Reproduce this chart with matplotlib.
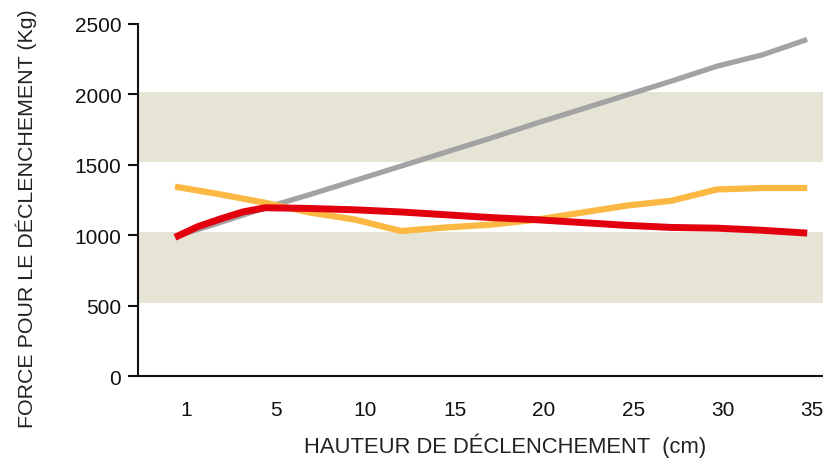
import matplotlib
matplotlib.use('Agg')
import matplotlib.pyplot as plt

plt.rcParams['font.family'] = ['Liberation Sans', 'DejaVu Sans']

# Sample points along the curves (readings every half tick step)
sample_idx = list(range(15))
red_idx = [0, 0.5, 1, 1.5, 2, 3, 4, 5, 6, 7, 8, 9, 10, 11, 12, 13, 14]
tick_pos = [0.25, 2.23, 4.21, 6.19, 8.17, 10.15, 12.13, 14.11]
tick_labels = ['1', '5', '10', '15', '20', '25', '30', '35']

gray_vals = [990, 1090, 1195, 1290, 1390, 1490, 1590, 1690, 1795, 1895,
             1995, 2095, 2200, 2280, 2390]
orange_vals = [1345, 1290, 1230, 1160, 1110, 1030, 1055, 1075, 1110, 1160,
               1210, 1245, 1325, 1335, 1335]
red_vals = [985, 1060, 1115, 1165, 1195, 1190, 1180, 1165, 1145, 1125,
            1110, 1090, 1070, 1055, 1050, 1035, 1015]

bands = [(520, 1020), (1520, 2020)]

fig = plt.figure(figsize=(8.23, 4.6), dpi=100)
ax = fig.add_axes([0.1677, 0.1804, 0.8323, 0.7653])

# Background bands
for lo, hi in bands:
    ax.axhspan(lo, hi, color='#E6E4D5', lw=0, zorder=0)

ax.plot(sample_idx, gray_vals, color='#A3A2A4', lw=3.8, zorder=2,
        solid_capstyle='butt')
ax.plot(sample_idx, orange_vals, color='#FBB843', lw=4.5, zorder=3,
        solid_capstyle='butt')
ax.plot(red_idx, red_vals, color='#E2000F', lw=5, zorder=4,
        solid_capstyle='butt', solid_joinstyle='round')

ax.set_xlim(-0.82, 14.35)
ax.set_ylim(0, 2500)
ax.set_yticks([0, 500, 1000, 1500, 2000, 2500])
ax.set_xticks(tick_pos)
ax.set_xticklabels(tick_labels)
ax.set_xticks([tick_pos[0]], minor=True)

ax.tick_params(axis='y', labelsize=15, length=7, width=1.5, pad=5,
               colors='#111111')
ax.tick_params(axis='x', which='major', labelsize=15, length=0, pad=17,
               colors='#111111')
ax.tick_params(axis='x', which='minor', length=8, width=1.2,
               direction='inout', colors='#111111')

for side in ['top', 'right']:
    ax.spines[side].set_visible(False)
for side in ['left', 'bottom']:
    ax.spines[side].set_linewidth(1.5)
    ax.spines[side].set_color('#111111')

# Axis titles placed where they sit in the original
fig.text(26 / 823, 1 - 219 / 460, 'FORCE POUR LE DÉCLENCHEMENT (Kg)',
         rotation=90, ha='center', va='center', fontsize=15.4,
         color='#222222')
fig.text(505 / 823, 1 - 446 / 460, 'HAUTEUR DE DÉCLENCHEMENT  (cm)',
         ha='center', va='center', fontsize=15.8, color='#222222')

fig.savefig('out.png', dpi=100)
